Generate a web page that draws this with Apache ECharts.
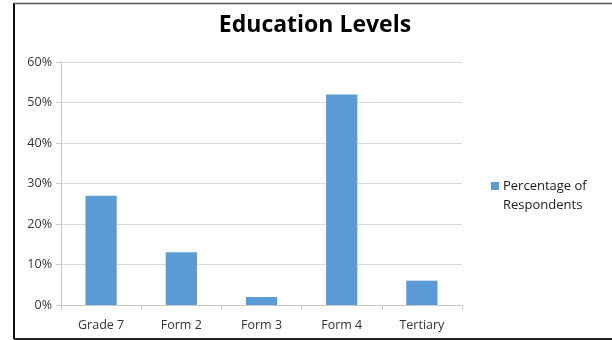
<!DOCTYPE html>
<html>
<head>
<meta charset="utf-8">
<script src="https://cdn.jsdelivr.net/npm/echarts@6/dist/echarts.min.js"></script>
<style>
    html, body { margin: 0; padding: 0; background: #fff; }
    #main { width: 612px; height: 340px; }
</style>
</head>
<body>
<div id="main"></div>
<script>
var categories = ['Grade 7', 'Form 2', 'Form 3', 'Form 4', 'Tertiary'];
var percentValues = [27, 13, 2, 52, 6];
var seriesName = 'Percentage of\nRespondents';
var chartTitle = 'Education Levels';

var font = '"Open Sans", "Liberation Sans", sans-serif';

var option = {
    animation: false,
    backgroundColor: '#fff',
    title: {
        text: chartTitle,
        left: 310,
        textAlign: 'center',
        top: 9,
        textStyle: {
            fontFamily: font,
            fontWeight: 'bold',
            fontSize: 23,
            color: '#000'
        }
    },
    legend: {
        data: [seriesName],
        left: 486,
        top: 172,
        orient: 'vertical',
        // square sits next to the first line of the label, like excel
        icon: 'path://M0,0L8,0L8,8L0,8Z M0,28L0.01,28',
        itemWidth: 8,
        itemHeight: 28,
        itemGap: 4,
        textStyle: {
            fontFamily: font,
            fontSize: 13,
            color: '#1a1a1a',
            lineHeight: 19,
            padding: [0, 0, 0, -1]
        }
    },
    grid: {
        left: 61,
        right: 150,
        top: 62,
        bottom: 35,
        containLabel: false
    },
    xAxis: {
        type: 'category',
        data: categories,
        boundaryGap: true,
        axisLine: { lineStyle: { color: '#c8c8c8', width: 1 } },
        axisTick: { show: true, alignWithLabel: false, length: 5, lineStyle: { color: '#c8c8c8' } },
        axisLabel: {
            margin: 14,
            fontFamily: font,
            fontSize: 12.5,
            color: '#333'
        }
    },
    yAxis: {
        type: 'value',
        min: 0,
        max: 60,
        interval: 10,
        axisLine: { show: true, lineStyle: { color: '#c8c8c8' } },
        axisTick: { show: true, length: 5, lineStyle: { color: '#c8c8c8' } },
        splitLine: { show: true, lineStyle: { color: '#d9d9d9', width: 1 } },
        axisLabel: {
            margin: 9,
            fontFamily: font,
            fontSize: 12.5,
            color: '#333',
            formatter: '{value}%'
        }
    },
    series: [
        {
            name: seriesName,
            type: 'bar',
            data: percentValues,
            barWidth: '39%',
            itemStyle: { color: '#5b9bd5' }
        }
    ],
    graphic: [
        { type: 'line', shape: { x1: 14, y1: 3, x2: 14, y2: 339 }, style: { stroke: '#111', lineWidth: 2 } },
        { type: 'line', shape: { x1: 14, y1: 3.5, x2: 612, y2: 3.5 }, style: { stroke: '#555', lineWidth: 1.5 } },
        { type: 'line', shape: { x1: 14, y1: 339, x2: 612, y2: 339 }, style: { stroke: '#222', lineWidth: 2 } }
    ]
};

var chart = echarts.init(document.getElementById('main'));
chart.setOption(option);
</script>
</body>
</html>
